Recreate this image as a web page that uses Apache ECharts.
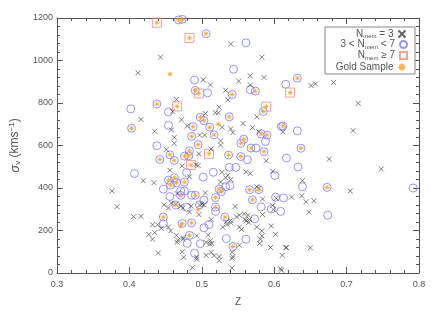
<!DOCTYPE html>
<html><head><meta charset="utf-8">
<script src="https://cdn.jsdelivr.net/npm/echarts@6/dist/echarts.min.js"></script>
<style>html,body{margin:0;padding:0;background:#fff}#c{width:436px;height:312px}</style>
</head><body><div id="c"></div>
<script>
// Nmem = 3 (crosses)
const mem3Z = [0.443,0.412,0.416,0.435,0.540,0.583,0.502,0.512,0.551,0.567,0.586,0.567,0.533,0.465,0.536,0.460,0.524,0.519,0.523,0.505,
0.576,0.472,0.458,0.480,0.528,0.540,0.543,0.557,0.570,0.579,0.612,0.462,0.462,0.497,0.504,0.451,0.456,0.419,0.434,0.376,
0.383,0.448,0.454,0.406,0.416,0.432,0.439,0.444,0.454,0.457,0.435,0.427,0.432,0.440,0.473,0.496,0.492,0.495,0.513,0.526,
0.526,0.589,0.483,0.528,0.533,0.536,0.540,0.526,0.561,0.567,0.598,0.576,0.579,0.603,0.624,0.466,0.505,0.584,0.598,0.485,
0.497,0.496,0.546,0.552,0.559,0.564,0.566,0.584,0.596,0.602,0.513,0.534,0.540,0.465,0.474,0.466,0.509,0.514,0.506,0.552,
0.580,0.617,0.473,0.475,0.493,0.493,0.506,0.513,0.524,0.542,0.543,0.611,0.487,0.542,0.609,0.651,0.657,0.682,0.716,0.709,
0.676,0.748,0.639,0.705,0.638,0.644,0.655,0.648,0.616,0.650,0.610,0.599,0.540,0.548,0.560,0.561,0.565,0.552,0.555,0.576,
0.583,0.583,0.581,0.595,0.542,0.535,0.458,0.464,0.471,0.474,0.483,0.500,0.503,0.529,0.474,0.467,0.493,0.512,0.511,0.517,0.524];
const mem3V = [1016,942,723,667,1078,1016,909,885,903,928,920,885,860,817,815,760,780,754,754,750,
735,721,673,692,686,678,661,704,684,664,664,638,610,649,649,581,483,434,425,386,
312,321,306,265,267,227,227,210,216,198,190,181,159,94,504,561,510,506,584,622,
602,528,453,474,448,460,440,428,476,468,479,406,398,352,357,374,377,348,318,315,
320,275,313,272,278,272,252,275,221,182,252,241,247,177,167,144,179,139,144,131,
139,120,100,74,74,65,83,97,59,97,77,83,25,23,20,882,890,897,798,670,
536,490,435,386,363,335,340,286,119,119,13,298,236,264,252,244,238,216,205,216,
198,175,159,120,69,228,329,324,314,306,287,324,321,216,159,154,175,152,136,82,77];

// 3 < Nmem < 7 (circles); circGold = 1 when the object is in the Gold Sample
const circZ = [0.402,0.438,0.454,0.403,0.454,0.468,0.473,0.506,0.561,0.544,0.490,0.632,0.616,0.567,0.574,0.491,0.508,0.542,0.585,0.498,
0.503,0.538,0.488,0.511,0.582,0.590,0.612,0.610,0.632,0.486,0.517,0.558,0.438,0.442,0.456,0.407,0.454,0.447,0.456,0.447,
0.447,0.462,0.476,0.482,0.495,0.483,0.479,0.537,0.554,0.568,0.575,0.586,0.588,0.554,0.563,0.617,0.633,0.462,0.457,0.465,
0.476,0.502,0.516,0.538,0.547,0.601,0.566,0.579,0.602,0.613,0.471,0.476,0.471,0.491,0.486,0.503,0.524,0.527,0.519,0.533,
0.539,0.570,0.596,0.609,0.464,0.519,0.573,0.473,0.486,0.503,0.510,0.532,0.483,0.498,0.534,0.480,0.543,0.561,0.490,0.637,
0.639,0.673,0.792,0.674,0.479,0.497,0.519,0.582];
const circV = [772,795,758,681,695,1191,1194,1126,1083,959,908,917,888,863,856,859,848,840,760,733,
717,735,689,686,655,649,692,689,669,643,650,630,599,534,556,468,437,395,360,263,
232,530,550,551,604,575,473,555,610,588,588,571,619,548,533,541,499,448,414,425,
428,451,474,497,497,459,392,392,357,353,386,386,365,366,366,343,395,383,355,406,
411,344,301,290,320,290,255,233,236,213,228,263,177,138,162,140,125,159,93,587,
406,403,400,272,309,321,310,311];
const circGold = [0,1,0,1,0,1,1,1,0,0,0,1,0,0,1,1,0,1,1,1,
1,1,1,1,1,1,1,0,0,1,1,1,0,1,1,0,1,0,0,1,
0,1,1,1,1,1,0,1,1,1,0,1,0,1,0,0,0,1,1,1,
1,0,0,0,0,0,1,1,0,0,0,0,1,1,0,0,1,1,1,0,
0,1,0,0,1,0,0,1,1,0,0,1,1,0,0,0,1,0,0,1,
0,1,0,0,0,0,1,0];

// Nmem >= 7 (squares), all in the Gold Sample
const sqZ = [0.438,0.483,0.496,0.622,0.466,0.589,0.510,0.485];
const sqV = [1178,1106,845,849,784,783,561,508];

// Gold Sample objects drawn without a circle or square
const goldOnlyZ = [0.456,0.523,0.495,0.471];
const goldOnlyV = [936,700,298,221];

const xTicks = [0.3,0.4,0.5,0.6,0.7,0.8];
const yTicks = [0,200,400,600,800,1000,1200];

const pairs = (a,b) => a.map((v,i)=>[v,b[i]]);
const goldData = [];
circZ.forEach((z,i)=>{ if(circGold[i]) goldData.push([z,circV[i]]); });
sqZ.forEach((z,i)=>goldData.push([z,sqV[i]]));
goldOnlyZ.forEach((z,i)=>goldData.push([z,goldOnlyV[i]]));

const FONT = 'Liberation Sans';
const TXT = '#555';
const axisCommon = (pos, show) => ({
  position: pos,
  axisLine: {show: true, onZero: false, lineStyle: {color: '#555', width: 1}},
  axisTick: {show: true, inside: true, length: 6, lineStyle: {color: '#555'}},
  minorTick: {show: true, length: 3, lineStyle: {color: '#555'}},
  splitLine: {show: false},
  axisLabel: {show: show, color: TXT, fontFamily: FONT, fontSize: 9}
});

const chart = echarts.init(document.getElementById('c'), null, {renderer: 'canvas'});
const names = {n3: 'N{s|mem} = 3', n46: '3 < N{s|mem} < 7', n7: 'N{s|mem} ≥ 7', gold: 'Gold Sample'};
const rich = {s: {fontSize: 6, lineHeight: 6, verticalAlign: 'bottom', color: TXT, fontFamily: FONT}};
const legendBase = (name, top) => ({
  data: [name], right: 28, top: top, orient: 'vertical', align: 'right', padding: 0,
  itemWidth: 7, itemHeight: 7, itemGap: 0, z: 20, selectedMode: false,
  formatter: n => names[n],
  textStyle: {color: TXT, fontSize: 10, fontFamily: FONT, lineHeight: 11, rich: rich}
});

chart.setOption({
  animation: false,
  grid: {left: 56, right: 17, top: 18, bottom: 36},
  xAxis: [
    Object.assign({type: 'value', min: 0.3, max: 0.8, interval: 0.1, name: 'Z', nameLocation: 'middle', nameGap: 24,
      nameTextStyle: {color: TXT, fontFamily: FONT, fontSize: 10},
      minorTick: {show: true, splitNumber: 10}}, axisCommon('bottom', true),
      {axisLabel: {show: true, color: TXT, fontFamily: FONT, fontSize: 9, margin: 7, formatter: v => xTicks.indexOf(Math.round(v*10)/10) >= 0 ? v.toFixed(1) : ''}}),
    Object.assign({type: 'value', min: 0.3, max: 0.8, interval: 0.1}, axisCommon('top', false))
  ],
  yAxis: [
    Object.assign({type: 'value', min: 0, max: 1200, interval: 200, name: '{i|σ}{s|v} (kms{p|−1})', nameLocation: 'middle', nameGap: 34, nameRotate: 90,
      nameTextStyle: {color: TXT, fontFamily: FONT, fontSize: 12, lineHeight: 14, rich: {
        i: {fontSize: 13, color: TXT, fontFamily: FONT, fontStyle: 'italic'},
        s: {fontSize: 8, lineHeight: 8, verticalAlign: 'bottom', color: TXT, fontFamily: FONT},
        p: {fontSize: 8, lineHeight: 8, verticalAlign: 'top', color: TXT, fontFamily: FONT}}}},
      axisCommon('left', true),
      {axisLabel: {show: true, color: TXT, fontFamily: FONT, fontSize: 9, margin: 4, formatter: v => yTicks.indexOf(v) >= 0 ? String(v) : ''}}),
    Object.assign({type: 'value', min: 0, max: 1200, interval: 200}, axisCommon('right', false))
  ],
  graphic: [{type: 'rect', z: 15, shape: {x: 325, y: 27, width: 90, height: 47},
    style: {fill: '#fff', stroke: '#888', lineWidth: 1}}],
  legend: [legendBase('n3', 28), legendBase('n46', 39), legendBase('n7', 50), legendBase('gold', 61)],
  series: [
    {name: 'n3', type: 'scatter', data: pairs(mem3Z, mem3V), symbol: 'path://M0,0L10,10M10,0L0,10', symbolSize: 5,
      itemStyle: {color: 'none', borderColor: '#3a3a3a', borderWidth: 0.8}, z: 3},
    {name: 'n46', type: 'scatter', data: pairs(circZ, circV), symbol: 'circle', symbolSize: 8,
      itemStyle: {color: 'rgba(0,0,0,0)', borderColor: '#7d7aff', borderWidth: 1}, z: 2},
    {name: 'n7', type: 'scatter', data: pairs(sqZ, sqV), symbol: 'rect', symbolSize: 9,
      itemStyle: {color: 'rgba(0,0,0,0)', borderColor: '#ff8a7a', borderWidth: 1}, z: 2},
    {name: 'gold', type: 'scatter', data: goldData, symbol: 'path://M5,0L5,10M0,5L10,5M1.5,1.5L8.5,8.5M1.5,8.5L8.5,1.5', symbolSize: 5,
      itemStyle: {color: 'none', borderColor: '#ffa033', borderWidth: 1}, z: 4}
  ]
});
</script></body></html>
